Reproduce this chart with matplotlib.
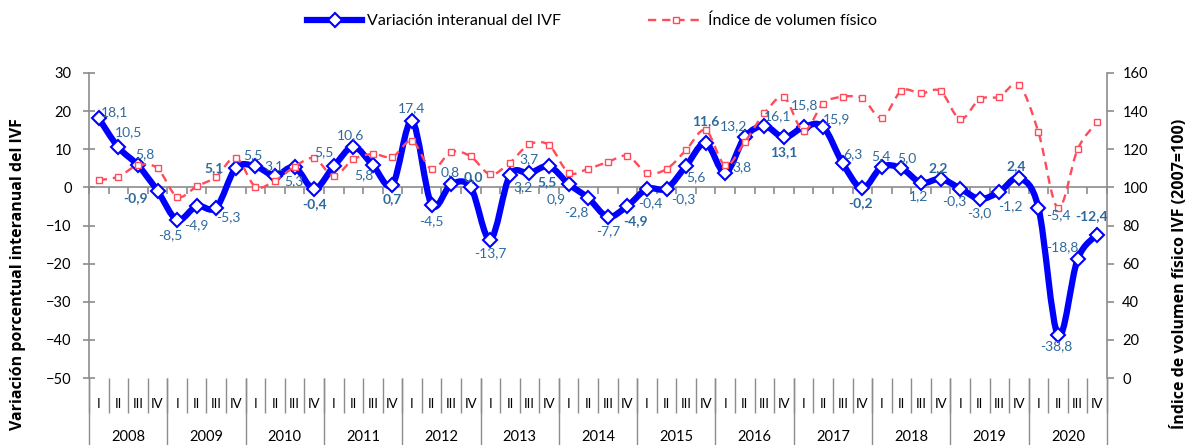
import numpy as np
import matplotlib
matplotlib.use("Agg")
import matplotlib.pyplot as plt
from matplotlib.path import Path
from matplotlib.patches import PathPatch
from matplotlib.lines import Line2D
import matplotlib.transforms as mtransforms

plt.rcParams['font.family'] = ['Lato', 'DejaVu Sans']

# datos trimestrales 2008-2020
anios = ["2008", "2009", "2010", "2011", "2012", "2013", "2014",
         "2015", "2016", "2017", "2018", "2019", "2020"]
trimestres = ["I", "II", "III", "IV"]

variacion = [18.1, 10.5, 5.8, -0.9,
             -8.5, -4.9, -5.3, 5.1,
             5.5, 3.1, 5.3, -0.4,
             5.5, 10.6, 5.8, 0.7,
             17.4, -4.5, 0.8, 0.0,
             -13.7, 3.2, 3.7, 5.5,
             0.9, -2.8, -7.7, -4.9,
             -0.4, -0.3, 5.6, 11.6,
             3.8, 13.2, 16.1, 13.1,
             15.8, 15.9, 6.3, -0.2,
             5.4, 5.0, 1.2, 2.2,
             -0.3, -3.0, -1.2, 2.4,
             -5.4, -38.8, -18.8, -12.4]

ivf = [103.8, 105.6, 111.6, 110.0,
       95.1, 100.5, 105.6, 115.6,
       100.4, 103.5, 110.9, 115.3,
       106.0, 114.7, 117.5, 116.0,
       124.4, 109.5, 118.6, 116.2,
       106.8, 113.0, 122.6, 122.1,
       107.7, 109.8, 113.3, 116.5,
       107.7, 109.6, 119.6, 130.0,
       111.6, 123.8, 138.9, 147.2,
       129.6, 144.0, 147.5, 146.7,
       136.5, 150.7, 149.3, 150.5,
       135.8, 146.3, 147.5, 153.7,
       128.8, 89.1, 120.0, 134.4]

# desplazamiento de cada etiqueta (pixeles, x, y hacia arriba)
desp_etiquetas = [(16, 6), (10, 15), (7, 11), (-22, -7),
                  (-7, -15), (0, -19), (12, -10), (-22, 0),
                  (-2, 11), (-1, 9), (-1, -14), (0, -15),
                  (-10, 14), (-3, 12), (-9, -10), (0, -14),
                  (0, 13), (0, -17), (-1, 12), (3, 10),
                  (0, -14), (13, -12), (-1, 14), (-2, -16),
                  (-12, -15), (-12, -14), (0, -14), (8, -15),
                  (3, -14), (17, -11), (10, -11), (0, 22),
                  (17, 6), (-11, 11), (13, 10), (0, -15),
                  (1, 22), (13, 8), (10, 9), (-2, -15),
                  (-1, 11), (5, 10), (-2, -13), (-2, 11),
                  (-6, -13), (-1, -14), (11, -14), (-3, 12),
                  (20, -7), (-2, -11), (-15, 12), (-6, 19)]

AZUL = "#0000FF"
ROJO = "#FF4B5A"
ETIQ = "#2F6A9C"
GRIS = "#8C8C8C"


def curva_suave(x, y, t=1/6):
    # curva tipo Excel (Catmull-Rom en Bezier)
    p = np.column_stack([x, y]).astype(float)
    n = len(p)
    verts = [p[0]]
    codes = [Path.MOVETO]
    for i in range(n - 1):
        p0 = p[i - 1] if i > 0 else p[i]
        p1 = p[i]
        p2 = p[i + 1]
        p3 = p[i + 2] if i + 2 < n else p[i + 1]
        verts += [p1 + (p2 - p0) * t, p2 - (p3 - p1) * t, p2]
        codes += [Path.CURVE4] * 3
    return Path(verts, codes)


x = np.arange(len(variacion))

fig = plt.figure(figsize=(11.93, 4.45), dpi=100)
ax = fig.add_axes([89/1193, 67/445, (1107-89)/1193, 305/445])
ax2 = ax.twinx()

# serie principal (eje izquierdo)
ax.add_patch(PathPatch(curva_suave(x, variacion), fill=False, edgecolor=AZUL,
                       lw=4.5, capstyle='round', joinstyle='round', zorder=3))
ax.plot(x, variacion, ls='none', marker='D', ms=7.5, mfc='white', mec=AZUL,
        mew=1.5, zorder=4)

# indice (eje derecho)
ax2.add_patch(PathPatch(curva_suave(x, ivf), fill=False, edgecolor=ROJO,
                        lw=1.7, ls=(0, (3.5, 2.5)), zorder=3))
ax2.plot(x, ivf, ls='none', marker='s', ms=4.2, mfc='white', mec=ROJO,
         mew=1.0, zorder=4)

ax.set_xlim(-0.5, len(x) - 0.5)
ax.set_ylim(-50, 30)
ax2.set_ylim(0, 160)
ax.set_yticks(np.arange(-50, 31, 10))
ax2.set_yticks(np.arange(0, 161, 20))

for s in ['top', 'right']:
    ax.spines[s].set_visible(False)
for s in ['top', 'left', 'bottom']:
    ax2.spines[s].set_visible(False)
ax.spines['left'].set_color(GRIS)
ax2.spines['right'].set_color(GRIS)
ax.spines['left'].set_linewidth(1.2)
ax2.spines['right'].set_linewidth(1.2)

# eje de categorias cruzando en 0
ax.spines['bottom'].set_position(('data', 0))
ax.spines['bottom'].set_color(GRIS)
ax.spines['bottom'].set_linewidth(1.2)
ax.set_xticks(np.arange(len(x) + 1) - 0.5)
ax.set_xticklabels([])
ax.tick_params(axis='x', direction='out', length=5, color=GRIS, width=1.2)
ax.tick_params(axis='y', direction='inout', length=9, color=GRIS, width=1.2,
               labelsize=10.5, pad=8)
ax2.tick_params(axis='y', direction='out', length=5, color=GRIS, width=1.2,
                labelsize=10.5, pad=6)

# etiquetas de trimestre y anio debajo del grafico
trans = mtransforms.blended_transform_factory(ax.transData, ax.transAxes)
for i in range(len(x)):
    ax.text(i, -0.085, trimestres[i % 4], transform=trans, ha='center',
            va='center', fontsize=9.5)
ax.vlines(np.arange(len(x) + 1) - 0.5, -0.115, 0, transform=trans,
          colors=GRIS, lw=1.0, clip_on=False)
ax.vlines(np.arange(0, len(x) + 1, 4) - 0.5, -0.22, 0, transform=trans,
          colors=GRIS, lw=1.0, clip_on=False)
for k, a in enumerate(anios):
    ax.text(4 * k + 1.5, -0.195, a, transform=trans, ha='center',
            va='center', fontsize=10.5)

# etiquetas de datos
for i, v in enumerate(variacion):
    dx, dy = desp_etiquetas[i]
    ax2.annotate(f"{v:.1f}".replace('.', ','), xy=(x[i], v),
                 xycoords=ax.transData, xytext=(dx, dy),
                 textcoords='offset pixels', ha='center', va='center',
                 fontsize=10, color=ETIQ,
                 fontweight='bold' if i % 4 == 3 else 'normal', zorder=6)

fuente_titulo = ['Open Sans', 'DejaVu Sans']
fig.text(18/1193, 1 - 274/445, "Variación porcentual interanual del IVF",
         rotation=90, ha='center', va='center', fontsize=11.5,
         fontweight='bold', family=fuente_titulo)
fig.text(1180/1193, 1 - 274/445, "Índice de volumen físico IVF (2007=100)",
         rotation=90, ha='center', va='center', fontsize=11.5,
         fontweight='bold', family=fuente_titulo)

h1 = Line2D([], [], color=AZUL, lw=4.5, marker='D', ms=7.5, mfc='white',
            mec=AZUL, mew=1.5)
h2 = Line2D([], [], color=ROJO, lw=1.7, ls=(0, (3.5, 2.5)), marker='s',
            ms=4.2, mfc='white', mec=ROJO, mew=1.0)
fig.legend([h1, h2], ["Variación interanual del IVF", "Índice de volumen físico"],
           loc='center', bbox_to_anchor=(592/1193, 1 - 21/445), ncol=2,
           frameon=False, fontsize=11.5, handlelength=3.4, handletextpad=0.3,
           columnspacing=5.5)

fig.savefig("out.png", dpi=100)
